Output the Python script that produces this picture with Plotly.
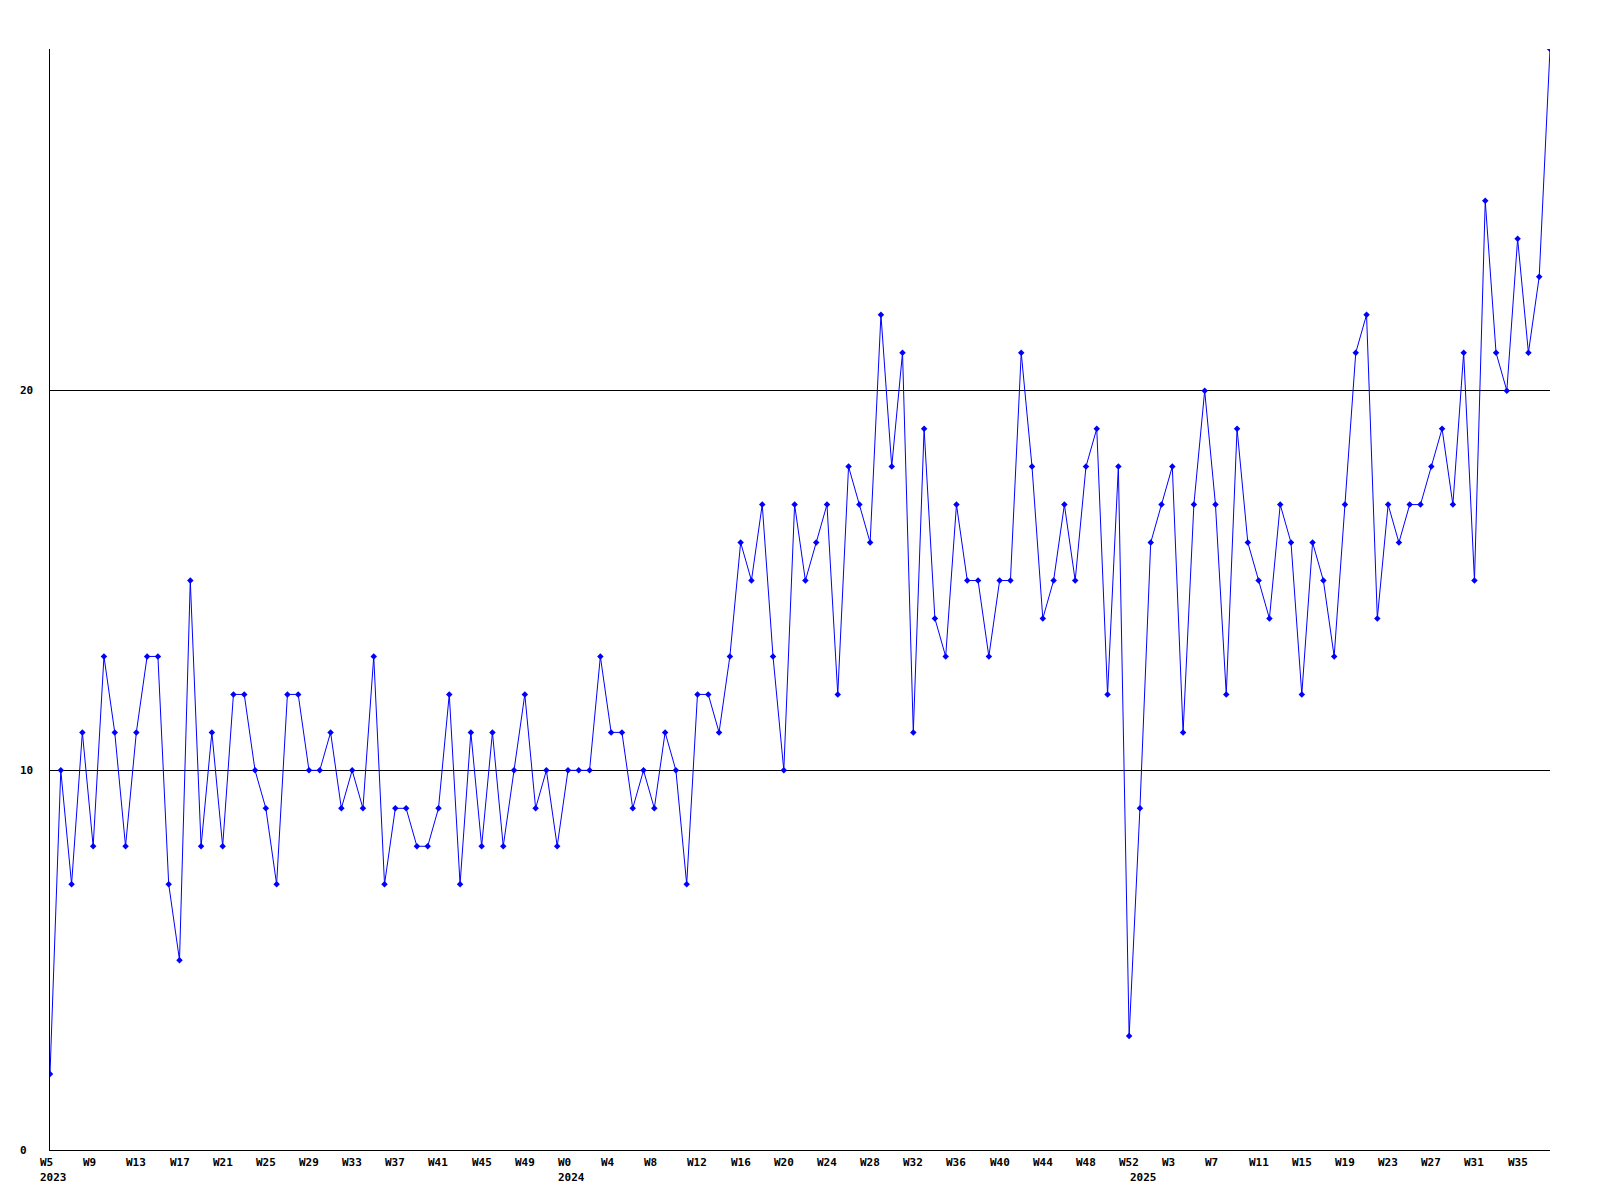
import plotly.graph_objects as go

# ---- data -------------------------------------------------------------
weeks_2023 = list(range(5, 53))   # W5 .. W52
weeks_2024 = list(range(0, 53))   # W0 .. W52
weeks_2025 = list(range(0, 39))   # W0 .. W38

values_2023 = [2, 10, 7, 11, 8, 13, 11, 8, 11, 13, 13, 7, 5, 15, 8, 11, 8, 12, 12, 10,
               9, 7, 12, 12, 10,
               10, 11, 9, 10, 9, 13, 7, 9, 9, 8, 8, 9, 12, 7, 11, 8, 11, 8, 10, 12,
               9, 10, 8]
values_2024 = [10, 10, 10, 13, 11, 11, 9, 10, 9, 11, 10, 7, 12, 12, 11, 13, 16, 15, 17, 13,
               10, 17, 15, 16, 17,
               12, 18, 17, 16, 22, 18, 21, 11, 19, 14, 13, 17, 15, 15, 13, 15, 15, 21, 18,
               14, 15, 17, 15, 18,
               19, 12, 18, 3]
values_2025 = [9, 16, 17, 18, 11, 17, 20, 17, 12, 19, 16, 15, 14, 17, 16, 12, 16, 15, 13, 17,
               21, 22, 14, 17, 16, 17, 17, 18, 19, 17, 21, 15, 25, 21, 20, 24, 21, 23, 29]

years = [2023, 2024, 2025]
y_ticks = [0, 10, 20]
tick_step = 4

# ---- build categories ---------------------------------------------------
categories = []
week_labels = []
values = []
year_starts = []
for yr, wks, vals in zip(years, [weeks_2023, weeks_2024, weeks_2025],
                         [values_2023, values_2024, values_2025]):
    year_starts.append((f"{yr}-W{wks[0]:02d}", str(yr)))
    for w, v in zip(wks, vals):
        categories.append(f"{yr}-W{w:02d}")
        week_labels.append(f"W{w}")
        values.append(v)

FONT = dict(family="DejaVu Sans Mono", size=11, color="black")

fig = go.Figure()
fig.add_trace(go.Scatter(
    x=categories, y=values, mode="lines+markers",
    line=dict(color="#0000ff", width=1),
    marker=dict(symbol="diamond", size=5, color="#0000ff"),
    hoverinfo="x+y", showlegend=False, cliponaxis=True,
))

annotations = []
# x tick labels (left aligned just before each tick point)
for i in range(0, len(categories), tick_step):
    annotations.append(dict(
        x=categories[i], y=0, xref="x", yref="paper",
        text=f"<b>{week_labels[i]}</b>", showarrow=False,
        xanchor="left", yanchor="top", xshift=-12, yshift=-4,
        font=FONT,
    ))
# year labels under first week of each year
for cat, yr in year_starts:
    annotations.append(dict(
        x=cat, y=0, xref="x", yref="paper",
        text=f"<b>{yr}</b>", showarrow=False,
        xanchor="left", yanchor="top", xshift=-12, yshift=-19,
        font=FONT,
    ))
# y tick labels (left aligned)
for t in y_ticks:
    annotations.append(dict(
        x=0, y=t, xref="paper", yref="y",
        text=f"<b>{t}</b>", showarrow=False,
        xanchor="left", yanchor="middle", xshift=-32,
        font=FONT,
    ))

fig.update_layout(
    width=1592, height=1192,
    margin=dict(l=42, r=50, t=41, b=50),
    paper_bgcolor="white", plot_bgcolor="white",
    annotations=annotations,
    xaxis=dict(
        type="category", categoryorder="array", categoryarray=categories,
        range=[0, len(categories) - 1],
        showgrid=False, showticklabels=False, ticks="",
        showline=True, linecolor="black", linewidth=1,
        zeroline=False,
    ),
    yaxis=dict(
        range=[0, 29], tickvals=y_ticks, showticklabels=False, ticks="",
        showgrid=True, gridcolor="black", gridwidth=1,
        showline=True, linecolor="black", linewidth=1,
        zeroline=False,
    ),
)

fig.write_html("out.html")
